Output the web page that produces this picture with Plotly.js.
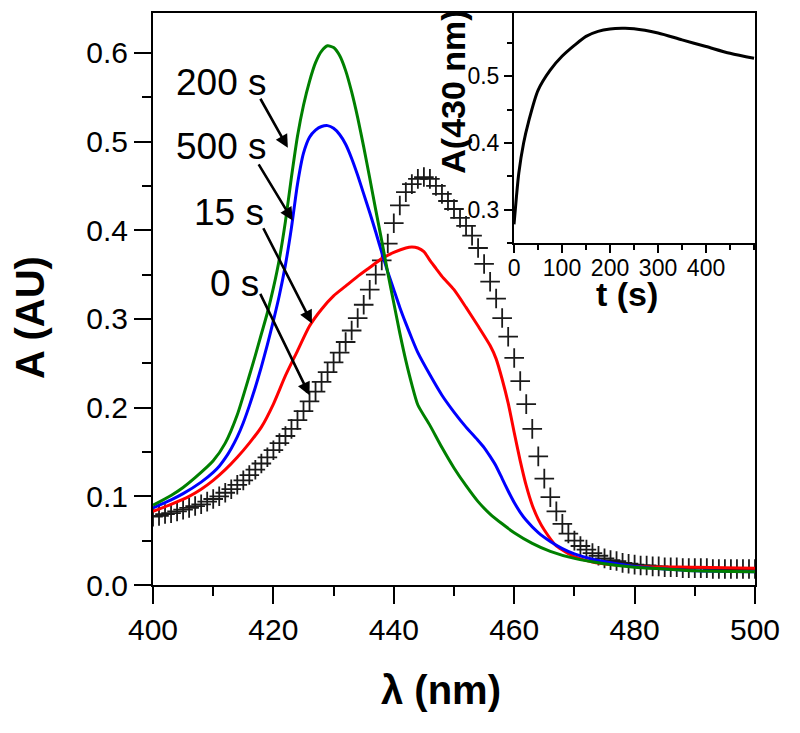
<!DOCTYPE html>
<html>
<head>
<meta charset="utf-8">
<script src="https://cdn.plot.ly/plotly-3.0.1.min.js"></script>
<style>html,body{margin:0;padding:0;background:#fff;}#chart{width:800px;height:733px;}</style>
</head>
<body>
<div id="chart"></div>
<script>
// ---- Main spectra (wavelength nm, absorbance AU) ----
const wl0 = [400,401,402,403,404,405,406,407,408,409,410,411,412,413,414,415,416,417,418,419,420,421,422,423,424,425,426,427,428,429,430,431,432,433,434,435,436,437,438,439,440,441,442,443,444,445,446,447,448,449,450,451,452,453,454,455,456,457,458,459,460,461,462,463,464,465,466,467,468,469,470,471,472,473,474,475,476,477,478,479,480,481,482,483,484,485,486,487,488,489,490,491,492,493,494,495,496,497,498,499,500];
const A0 = [0.077,0.078,0.080,0.081,0.083,0.085,0.087,0.089,0.091,0.094,0.097,0.100,0.104,0.108,0.113,0.118,0.124,0.130,0.137,0.144,0.152,0.160,0.168,0.176,0.186,0.196,0.207,0.218,0.229,0.240,0.251,0.262,0.274,0.287,0.301,0.316,0.333,0.350,0.366,0.385,0.408,0.428,0.443,0.452,0.458,0.460,0.458,0.450,0.441,0.433,0.424,0.414,0.405,0.394,0.380,0.362,0.342,0.323,0.301,0.280,0.256,0.230,0.204,0.176,0.145,0.120,0.099,0.083,0.069,0.058,0.050,0.044,0.040,0.036,0.033,0.030,0.028,0.027,0.025,0.024,0.023,0.022,0.022,0.021,0.021,0.020,0.020,0.020,0.019,0.019,0.019,0.019,0.019,0.018,0.018,0.018,0.018,0.018,0.018,0.018,0.018];

const wl15 = [400,403,406,408,410,412,414,416,418,420,422,424,426,428,430,432,434,436,438,440,442,443,444,445,446,447,448,450,452,454,456,457,458,459,460,461,462,463,464,465,467,470,473,476,480,490,500];
const A15 = [0.083,0.091,0.100,0.108,0.118,0.130,0.144,0.160,0.178,0.204,0.236,0.264,0.292,0.311,0.326,0.337,0.348,0.358,0.368,0.375,0.380,0.381,0.380,0.376,0.366,0.357,0.348,0.333,0.313,0.292,0.270,0.255,0.232,0.205,0.172,0.140,0.112,0.090,0.074,0.062,0.044,0.032,0.026,0.023,0.021,0.020,0.019];

const wl200 = [400,403,405,407,410,412,414,416,417,418,419,420,421,422,423,424,425,426,427,428,429,430,431,432,433,434,435,436,437,438,439,440,441,442,443,444,446,448,450,452,454,456,458,460,463,466,470,475,480,485,490,500];
const A200 = [0.090,0.101,0.110,0.121,0.140,0.160,0.192,0.236,0.259,0.283,0.307,0.335,0.368,0.410,0.460,0.506,0.541,0.568,0.589,0.602,0.608,0.606,0.597,0.580,0.556,0.527,0.494,0.459,0.423,0.388,0.352,0.318,0.284,0.253,0.226,0.203,0.180,0.155,0.132,0.112,0.094,0.080,0.069,0.059,0.047,0.038,0.030,0.024,0.020,0.018,0.016,0.015];

const wl500 = [400,403,405,408,410,411,412,413,414,415,416,417,418,419,420,421,422,423,424,425,426,427,428,429,430,431,432,433,434,435,436,437,438,439,440,441,442,443,444,446,448,450,452,454,455,456,457,458,459,460,461,462,464,466,468,470,473,476,480,485,490,500];
const A500 = [0.087,0.096,0.103,0.116,0.127,0.134,0.143,0.154,0.167,0.183,0.202,0.223,0.246,0.271,0.298,0.327,0.361,0.403,0.452,0.487,0.505,0.513,0.517,0.518,0.515,0.508,0.497,0.481,0.462,0.441,0.420,0.398,0.375,0.353,0.333,0.313,0.295,0.278,0.262,0.237,0.214,0.195,0.178,0.163,0.155,0.145,0.134,0.120,0.106,0.093,0.082,0.073,0.059,0.049,0.041,0.035,0.029,0.025,0.021,0.018,0.016,0.015];

// ---- Inset kinetics: A(430 nm) vs t (s) ----
const tKin = [0,5,10,20,30,50,75,100,125,150,175,200,225,250,300,350,400,450,500];
const AKin = [0.278,0.319,0.355,0.400,0.431,0.479,0.509,0.530,0.546,0.560,0.5675,0.571,0.572,0.5715,0.565,0.5547,0.5447,0.5345,0.527];

// ---- Labels ----
const timeLabels = ["200 s","500 s","15 s","0 s"];
const mainXTitle = "λ (nm)";
const mainYTitle = "A (AU)";
const insetXTitle = "t (s)";
const insetYTitle = "A(430 nm)";

const FONT = "Liberation Sans, Arial, sans-serif";
const lw = 3;

const traces = [
  {x: wl0, y: A0, mode: "markers", type: "scatter", xaxis: "x", yaxis: "y",
   marker: {symbol: "cross-thin", size: 14, line: {width: 1.8, color: "#1a1a1a"}, color: "#1a1a1a"}},
  {x: wl15, y: A15, mode: "lines", type: "scatter", line: {color: "#ff0000", width: lw, shape: "spline", smoothing: 0.6}},
  {x: wl500, y: A500, mode: "lines", type: "scatter", line: {color: "#0000ff", width: lw, shape: "spline", smoothing: 0.6}},
  {x: wl200, y: A200, mode: "lines", type: "scatter", line: {color: "#008000", width: lw, shape: "spline", smoothing: 0.6}},
  {x: tKin, y: AKin, mode: "lines", type: "scatter", xaxis: "x2", yaxis: "y2",
   line: {color: "#000", width: 3, shape: "spline", smoothing: 0.8}}
];

// annotation text positions (data coords) and arrow tails/heads
const labelPos = [[411.3,0.567],[411.3,0.494],[412.6,0.420],[413.6,0.340]];
const arrowTail = [[417.7,0.550],[417.4,0.476],[418.2,0.404],[417.7,0.330]];
const arrowHead = [[422.4,0.493],[423.2,0.411],[426.4,0.295],[426.0,0.214]];

const annotations = [];
for (let i = 0; i < timeLabels.length; i++) {
  annotations.push({x: labelPos[i][0], y: labelPos[i][1], xref: "x", yref: "y", text: timeLabels[i],
    showarrow: false, font: {family: FONT, size: 37, color: "#000"}, xanchor: "center", yanchor: "middle"});
  annotations.push({x: arrowHead[i][0], y: arrowHead[i][1], xref: "x", yref: "y",
    ax: arrowTail[i][0], ay: arrowTail[i][1], axref: "x", ayref: "y", text: "",
    showarrow: true, arrowhead: 2, arrowsize: 1, arrowwidth: 2.6, arrowcolor: "#000", standoff: 0, startstandoff: 0});
}
// axis titles as annotations
annotations.push({xref: "paper", yref: "paper", x: -0.204, y: 0.467, text: "<b>" + mainYTitle + "</b>", textangle: -90,
  showarrow: false, font: {family: FONT, size: 40, color: "#000"}, xanchor: "center", yanchor: "middle"});
annotations.push({xref: "paper", yref: "paper", x: 0.478, y: -0.1836, text: "<b>" + mainXTitle + "</b>",
  showarrow: false, font: {family: FONT, size: 40, color: "#000"}, xanchor: "center", yanchor: "middle"});
annotations.push({xref: "paper", yref: "paper", x: 0.498, y: 0.862, text: "<b>" + insetYTitle + "</b>", textangle: -90,
  showarrow: false, font: {family: FONT, size: 34, color: "#000"}, xanchor: "center", yanchor: "middle"});
annotations.push({xref: "paper", yref: "paper", x: 0.788, y: 0.508, text: "<b>" + insetXTitle + "</b>",
  showarrow: false, font: {family: FONT, size: 34, color: "#000"}, xanchor: "center", yanchor: "middle"});

const axisCommon = {showgrid: false, zeroline: false, showline: true, linecolor: "#000", linewidth: 2,
  mirror: true, ticks: "outside", tickcolor: "#000", tickwidth: 2};

const layout = {
  width: 800, height: 733,
  margin: {l: 153, r: 45, t: 13, b: 148},
  paper_bgcolor: "#fff", plot_bgcolor: "#fff",
  showlegend: false,
  font: {family: FONT, color: "#000"},
  xaxis: Object.assign({}, axisCommon, {range: [400, 500], domain: [0, 1], anchor: "y",
    tick0: 400, dtick: 20, ticklen: 17, tickfont: {family: FONT, size: 30, color: "#000"},
    minor: {ticks: "outside", ticklen: 9, tickwidth: 2, tickcolor: "#000", dtick: 10, tick0: 400}}),
  yaxis: Object.assign({}, axisCommon, {range: [0, 0.645], domain: [0, 1], anchor: "x",
    tick0: 0, dtick: 0.1, tickformat: ".1f", ticklen: 17, tickfont: {family: FONT, size: 30, color: "#000"},
    minor: {ticks: "outside", ticklen: 9, tickwidth: 2, tickcolor: "#000", dtick: 0.05, tick0: 0}}),
  xaxis2: Object.assign({}, axisCommon, {range: [0, 502], domain: [0.5997, 1], anchor: "y2",
    tickmode: "array", tickvals: [0,100,200,300,400], ticklen: 8, ticklabelstandoff: -5,
    tickfont: {family: FONT, size: 23, color: "#000"},
    minor: {ticks: "outside", ticklen: 5, tickwidth: 2, tickcolor: "#000", dtick: 50, tick0: 0}}),
  yaxis2: Object.assign({}, axisCommon, {range: [0.25, 0.595], domain: [0.598, 1], anchor: "x2",
    tickmode: "array", tickvals: [0.3,0.4,0.5], ticktext: ["0.3","0.4","0.5"], ticklen: 8,
    tickfont: {family: FONT, size: 23, color: "#000"},
    minor: {ticks: "outside", ticklen: 5, tickwidth: 2, tickcolor: "#000", dtick: 0.05, tick0: 0.25}}),
  annotations: annotations
};

Plotly.newPlot("chart", traces, layout, {displayModeBar: false, staticPlot: true});
</script>
</body>
</html>
